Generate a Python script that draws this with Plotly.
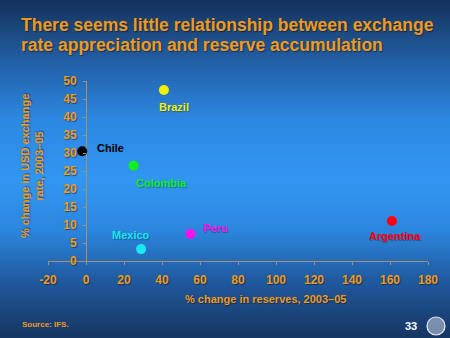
import plotly.graph_objects as go

# Reserve growth vs. currency appreciation, 2003-05
countries = ["Brazil", "Chile", "Colombia", "Mexico", "Peru", "Argentina"]
reserves_change = [41, -2, 25, 29, 55, 161]
fx_change = [47.5, 30.5, 26.5, 3.3, 7.5, 11.1]
colors = ["#f2f000", "#000000", "#12ee22", "#18e8f0", "#ff10f0", "#ff0010"]
x_ticks = [-20, 0, 20, 40, 60, 80, 100, 120, 140, 160, 180]
y_ticks = [0, 5, 10, 15, 20, 25, 30, 35, 40, 45, 50]
title_lines = ["There seems little relationship between exchange",
               "rate appreciation and reserve accumulation"]

W, H = 450, 338
ML, MR, MT, MB = 48, 22, 81, 77
PW, PH = W - ML - MR, H - MT - MB

ORANGE = "#f09a1c"
AXIS = "#a8906a"
FONT = "Liberation Sans, Arial, sans-serif"
SHADOW = "1px 1px 1px rgba(0,0,20,0.45)"

# label offsets (pixels) relative to each marker
label_dx = [10, 28, 28, -10, 24, 3]
label_dy = [-17, 3, -17, 14, 6, -15]

fig = go.Figure()
fig.add_trace(go.Scatter(
    x=reserves_change, y=fx_change, mode="markers",
    marker=dict(size=10, color=colors, line=dict(width=0)),
    hoverinfo="skip", showlegend=False, cliponaxis=False,
))

# vertical gradient background, painted as thin horizontal bands
stops = [(0, (20, 50, 90)), (60, (34, 94, 164)), (120, (44, 136, 226)),
         (180, (49, 150, 242)), (230, (44, 134, 222)), (280, (32, 90, 160)),
         (338, (22, 54, 98))]

def bg_color(py):
    for (p0, c0), (p1, c1) in zip(stops, stops[1:]):
        if p0 <= py <= p1:
            t = (py - p0) / (p1 - p0)
            return "rgb(%d,%d,%d)" % tuple(round(a + (b - a) * t) for a, b in zip(c0, c1))
    return "rgb(%d,%d,%d)" % stops[-1][1]

def px_to_paper_y(py):
    return (H - MB - py) / PH

def px_to_paper_x(px):
    return (px - ML) / PW

shapes = []
step = 3
for py in range(0, H, step):
    shapes.append(dict(
        type="rect", xref="paper", yref="paper", layer="below",
        x0=px_to_paper_x(0), x1=px_to_paper_x(W),
        y0=px_to_paper_y(py + step + 0.5), y1=px_to_paper_y(py),
        fillcolor=bg_color(py + step / 2), line=dict(width=0),
    ))

# small seal in the corner
shapes.append(dict(
    type="circle", xref="paper", yref="paper", layer="above",
    x0=px_to_paper_x(427), x1=px_to_paper_x(445),
    y0=px_to_paper_y(335), y1=px_to_paper_y(317),
    fillcolor="rgba(200,210,225,0.55)", line=dict(color="#e8eef6", width=1.2),
))

annotations = []
for name, x, y, c, dx, dy in zip(countries, reserves_change, fx_change, colors, label_dx, label_dy):
    annotations.append(dict(
        x=x, y=y, xref="x", yref="y", text="<b>%s</b>" % name, showarrow=False,
        xshift=dx, yshift=dy, xanchor="center", yanchor="middle",
        font=dict(family=FONT, size=11, color=c,
                  shadow="1px 1px 1px rgba(0,0,20,0.3)" if c != "#000000" else "none"),
    ))

for i, line in enumerate(title_lines):
    annotations.append(dict(
        text="<b>%s</b>" % line,
        xref="paper", yref="paper", x=px_to_paper_x(19), y=px_to_paper_y(25 + 20 * i),
        xanchor="left", yanchor="middle", align="left", showarrow=False,
        font=dict(family=FONT, size=17.5, color=ORANGE, shadow=SHADOW)))

annotations += [
    dict(text="<b>% change in reserves, 2003–05</b>",
         xref="paper", yref="paper", x=px_to_paper_x(265), y=px_to_paper_y(299),
         xanchor="center", yanchor="middle", showarrow=False,
         font=dict(family=FONT, size=11, color=ORANGE, shadow=SHADOW)),
    dict(text="<b>% change in USD exchange<br>rate, 2003–05</b>",
         xref="paper", yref="paper", x=px_to_paper_x(32), y=px_to_paper_y(166),
         xanchor="center", yanchor="middle", showarrow=False, textangle=-90,
         font=dict(family=FONT, size=11, color=ORANGE, shadow=SHADOW)),
    dict(text="<b>Source: IFS.</b>",
         xref="paper", yref="paper", x=px_to_paper_x(20), y=px_to_paper_y(324),
         xanchor="left", yanchor="middle", showarrow=False,
         font=dict(family=FONT, size=8, color=ORANGE)),
    dict(text="<b>33</b>",
         xref="paper", yref="paper", x=px_to_paper_x(419), y=px_to_paper_y(326),
         xanchor="right", yanchor="middle", showarrow=False,
         font=dict(family=FONT, size=11, color="#ffffff")),
]

tickfont = dict(family=FONT, size=12, color=ORANGE, weight="bold", shadow=SHADOW)

fig.update_layout(
    width=W, height=H,
    margin=dict(l=ML, r=MR, t=MT, b=MB, pad=0),
    paper_bgcolor="#1f5a9c", plot_bgcolor="rgba(0,0,0,0)",
    shapes=shapes, annotations=annotations,
    xaxis=dict(range=[-20, 180], tickvals=x_ticks, ticktext=[str(v) for v in x_ticks],
               showgrid=False, zeroline=True, zerolinecolor=AXIS, zerolinewidth=1.2,
               showline=True, linecolor=AXIS, linewidth=1.2,
               ticks="outside", ticklen=3, tickcolor=AXIS, ticklabelstandoff=4,
               tickfont=tickfont, fixedrange=True),
    yaxis=dict(range=[0, 50], tickvals=y_ticks, ticktext=[str(v) for v in y_ticks],
               showgrid=False, zeroline=False, showline=False,
               anchor="free", position=0.1,
               ticks="outside", ticklen=3, tickcolor=AXIS, ticklabelstandoff=4,
               tickfont=tickfont, fixedrange=True),
    font=dict(family=FONT),
)

fig.write_html("out.html", config={"displayModeBar": False})
